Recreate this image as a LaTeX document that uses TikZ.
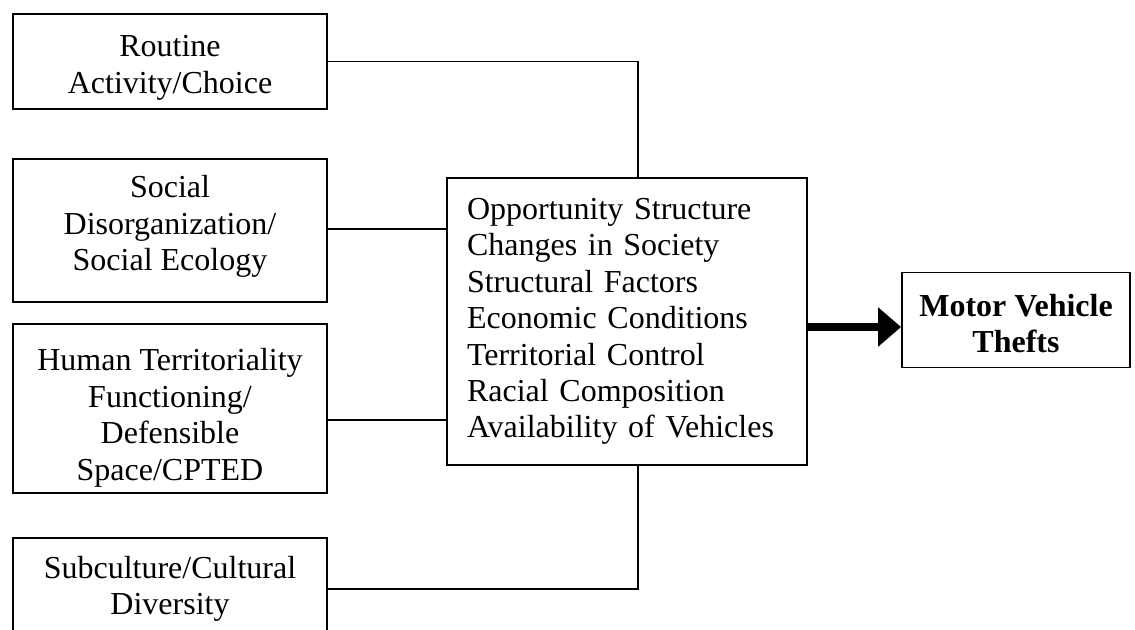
\documentclass[tikz,border=0pt]{standalone}
\usepackage{fontspec}
\setmainfont{Liberation Serif}
\usetikzlibrary{arrows.meta}
\newcommand{\tophold}[1]{\rule{0pt}{\dimexpr 11.3pt+#1\relax}}
\newcommand{\bothold}[1]{\rule[-\dimexpr 3.6pt+#1\relax]{0pt}{0pt}}
\begin{document}
\begin{tikzpicture}[x=0.5pt,y=-0.5pt,
  box/.style={draw, line width=0.9pt, align=center, inner sep=0pt,
    font=\fontsize{16}{18.2}\selectfont, minimum width=157pt},
  link/.style={line width=0.9pt},
  bigarrow/.style={line width=4pt, -{Triangle[length=11.5pt,width=19pt]}}]
\useasboundingbox (0,0) rectangle (1135,629);
\clip (0,0) rectangle (1135,629);
\node[box, minimum height=47.5pt] (r) at (170,61.5) {\tophold{5.5pt}Routine\\Activity/Choice};
\node[box, minimum height=71.5pt] (s) at (170,230.5) {Social\\Disorganization/\\Social Ecology\bothold{4pt}};
\node[box, minimum height=84.5pt] (h) at (170,408.5) {\tophold{9pt}Human Territoriality\\Functioning/\\Defensible\\Space/CPTED};
\node[box, minimum height=51pt] (sc) at (170,589) {Subculture/Cultural\\Diversity};
\node[box, minimum width=180pt, minimum height=143.5pt, align=left,
  inner xsep=10pt, text width=160pt] (c) at (627,321.5)
  {Opportunity Structure\\Changes in Society\\Structural Factors\\Economic Conditions\\Territorial Control\\Racial Composition\\Availability of Vehicles};
\node[box, minimum width=114pt, minimum height=47.5pt, font=\fontsize{16}{18.2}\selectfont\bfseries] (m) at (1016,320) {\tophold{3.5pt}Motor Vehicle\\Thefts};
\coordinate (vx) at (638,0);
\coordinate (sy) at (0,229);
\coordinate (hy) at (0,420);
\coordinate (uy) at (0,589);
\coordinate (ay) at (0,327);
\draw[link] (r.east) -| (c.north -| vx);
\draw[link] (s.east |- sy) -- (c.west |- sy);
\draw[link] (h.east |- hy) -- (c.west |- hy);
\draw[link] (sc.east |- uy) -| (c.south -| vx);
\draw[bigarrow] (c.east |- ay) -- (m.west |- ay);
\end{tikzpicture}
\end{document}
